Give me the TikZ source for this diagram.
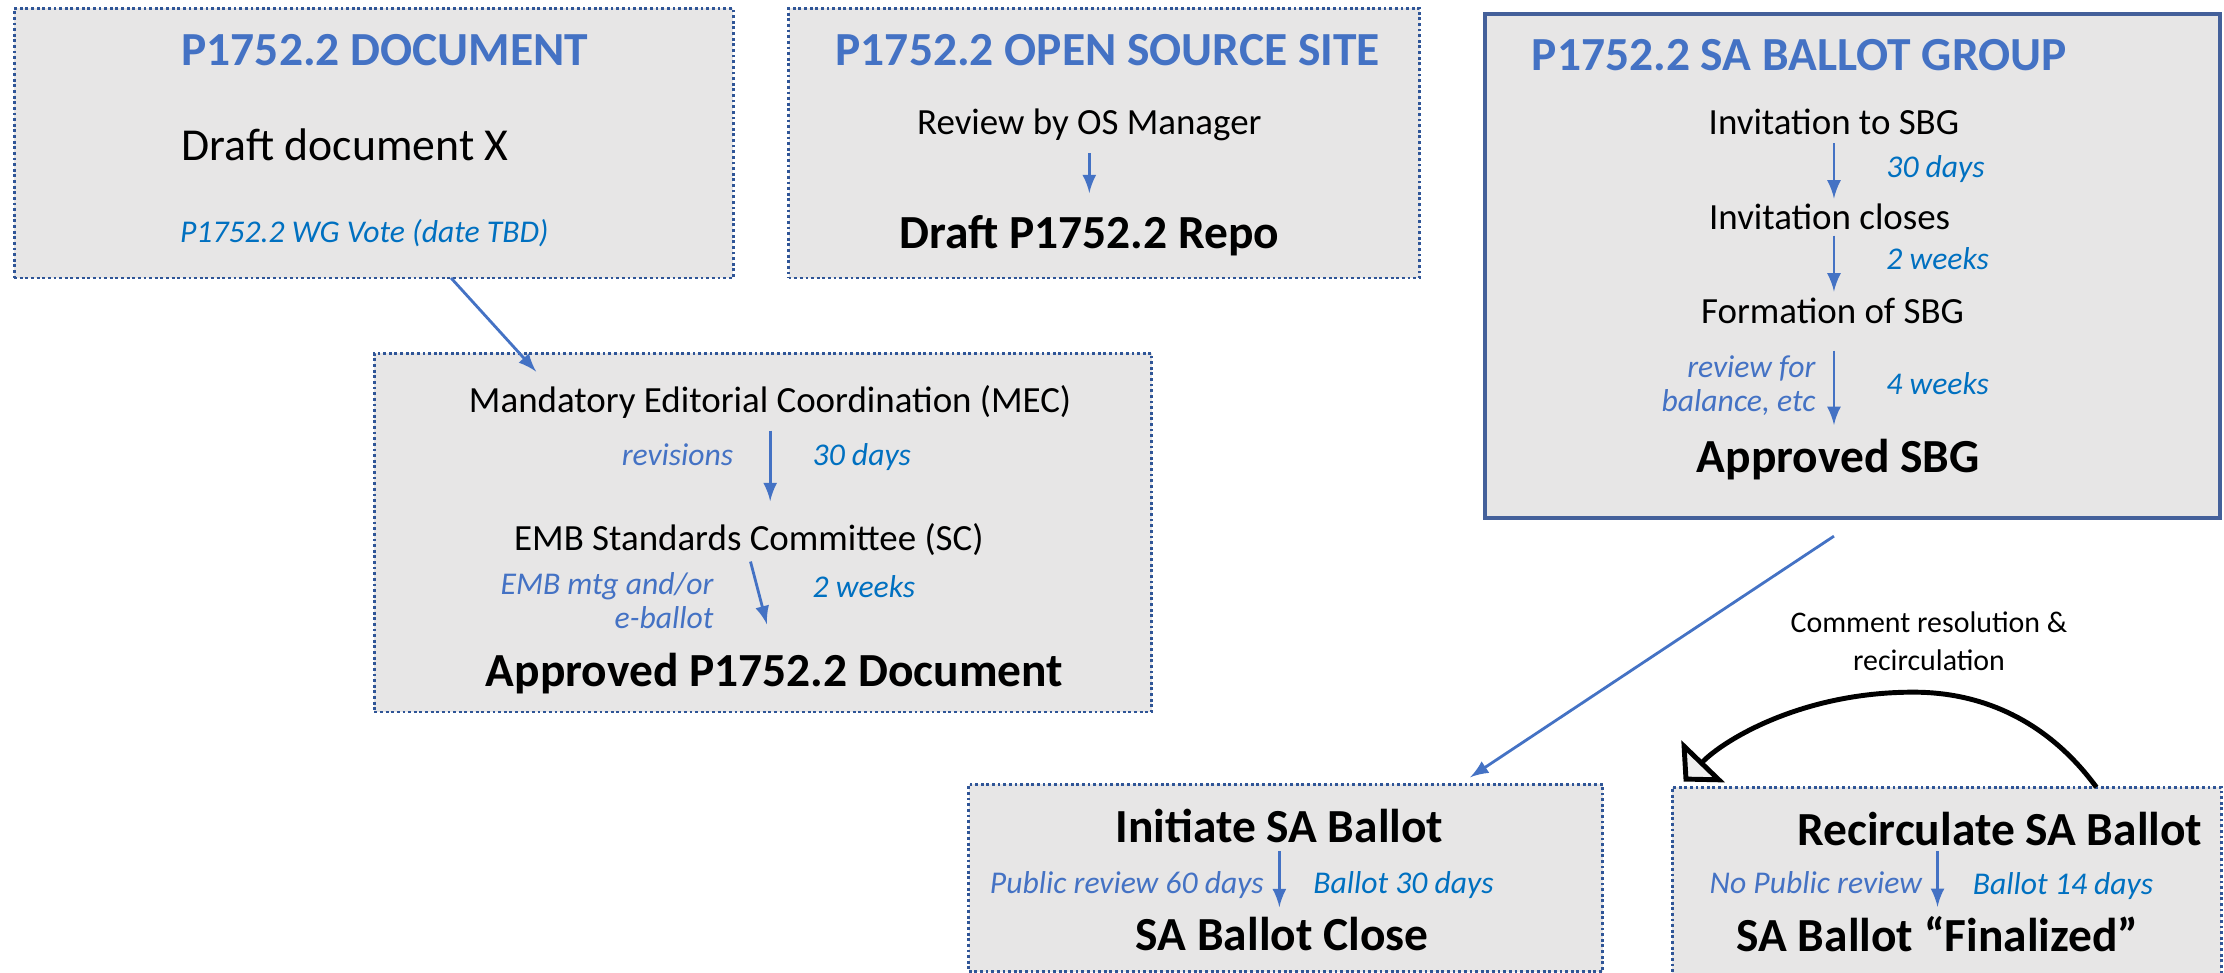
\documentclass[tikz,border=0pt]{standalone}
\usepackage{fontspec}
\setmainfont{Carlito}
\usetikzlibrary{fit,arrows.meta}

\definecolor{headblue}{HTML}{4472C4}
\definecolor{noteblue}{HTML}{0070C0}
\definecolor{boxgray}{HTML}{E7E6E6}
\definecolor{dotblue}{HTML}{2F5597}
\definecolor{framegray}{HTML}{44609A}

\begin{document}
\begin{tikzpicture}[x=0.01418cm, y=-0.01418cm]
\tikzset{ >=latex, inner sep=0pt, outer sep=0pt,
  dotbox/.style={draw=dotblue, fill=boxgray, line width=0.8pt, dash pattern=on 0.8pt off 0.8pt},
  framebox/.style={draw=framegray, fill=boxgray, line width=1.1pt},
  head/.style={font=\fontsize{13.5}{16}\selectfont\bfseries, text=headblue},
  result/.style={font=\fontsize{13.5}{16}\selectfont\bfseries},
  stage/.style={font=\fontsize{10.5}{12.6}\selectfont},
  note/.style={font=\fontsize{9}{9.7}\selectfont\itshape, text=noteblue},
  remark/.style={font=\fontsize{9}{9.7}\selectfont\itshape, text=headblue, align=right},
  flow/.style={->, headblue, line width=0.8pt},
}

%\draw [lightgray, dashed](0,0) grid[step=100] (1568,686);
\useasboundingbox (0,0) rectangle (1568,686);

\node [dotbox, fit={(10,6) (517,196)}] (doc) {};
\node [dotbox, fit={(556,6) (1001,196)}] (oss) {};
\node [framebox, fit={(1047,10) (1565,365)}] (sbg) {};
\node [dotbox, fit={(264,249) (812,502)}] (mec) {};
\node [dotbox, fit={(683,553) (1130,685)}] (ini) {};
\node [dotbox, fit={(1179,555) (1566,692)}] (rec) {};

% document
\node [head, anchor=base west] (docT) at (128,46) {P1752.2 DOCUMENT};
\node [font=\fontsize{13}{15.6}\selectfont, anchor=base west] (draft) at (128,113) {Draft document X};
\node [note, anchor=base west] (vote) at (127,171) {P1752.2 WG Vote (date TBD)};

% open source site
\node [head, anchor=base] (ossT) at (781,46) {P1752.2 OPEN SOURCE SITE};
\node [stage, anchor=base] (osrev) at (768,95) {Review by OS Manager};
\node [result, anchor=base] (repo) at (768,175) {Draft P1752.2 Repo};
\draw [flow, shorten <=3.4pt, shorten >=6.3pt] (osrev.south) -- (osrev.south |- repo.north);

% ballot group
\node [head, anchor=base west] (sbgT) at (1080,50) {P1752.2 SA BALLOT GROUP};
\node [stage, anchor=base] (inv) at (1293,95) {Invitation to SBG};
\node [stage, anchor=base] (invc) at (1290,162) {Invitation closes};
\node [stage, anchor=base] (form) at (1292,228) {Formation of SBG};
\node [result, anchor=base] (appsbg) at (1296,333) {Approved SBG};
\draw [flow, shorten <=2.4pt, shorten >=1.6pt] (inv.south) -- (inv.south |- invc.north);
\draw [flow, shorten <=1.6pt, shorten >=1.8pt] (inv.south |- invc.south) -- (inv.south |- form.north);
\draw [flow, shorten <=7.7pt, shorten >=4pt] (inv.south |- form.south) -- (inv.south |- appsbg.north);
\node [note, anchor=base west] (d30) at (1330,125) {30 days};
\node [note, anchor=base west] (w2) at (1330,190) {2 weeks};
\node [note, anchor=base west] (w4) at (1330,278) {4 weeks};
\node [remark, anchor=base east] (bal) at (1280,290) {review for\\balance, etc};

% editorial coordination
\node [stage, anchor=base] (mectxt) at (543,291) {Mandatory Editorial Coordination (MEC)};
\node [stage, anchor=base] (emb) at (528,388) {EMB Standards Committee (SC)};
\node [result, anchor=base] (appdoc) at (546,484) {Approved P1752.2 Document};
\draw [flow, shorten <=3.4pt, shorten >=6.3pt] (mectxt.south) -- (mectxt.south |- emb.north);
\draw [flow, shorten <=1.8pt, shorten >=8.5pt] (emb.south) -- (appdoc.north);
\node [remark, anchor=base east] (revs) at (517,328) {revisions};
\node [note, anchor=base west] (md30) at (573,328) {30 days};
\node [remark, anchor=base east] (mtg) at (503,443) {EMB mtg and/or\\e-ballot};
\node [note, anchor=base west] (mw2) at (573,421) {2 weeks};

% sa ballot
\node [result, anchor=base] (initxt) at (902,594) {Initiate SA Ballot};
\node [result, anchor=base] (close) at (904,670) {SA Ballot Close};
\draw [flow, shorten <=2.4pt, shorten >=2.8pt] (initxt.south) -- (initxt.south |- close.north);
\node [remark, anchor=base east] (pub) at (891,630) {Public review 60 days};
\node [note, anchor=base west] (b30) at (926,630) {Ballot 30 days};

\node [result, anchor=base] (rectxt) at (1410,596) {Recirculate SA Ballot};
\node [result, anchor=base] (fin) at (1366,671) {SA Ballot ``Finalized''};
\draw [flow, shorten <=1.6pt, shorten >=2.8pt] (fin.north |- rectxt.south) -- (fin.north);
\node [remark, anchor=base east] (nopub) at (1355,630) {No Public review};
\node [note, anchor=base west] (b14) at (1391,631) {Ballot 14 days};

% links between boxes
\draw [flow] ([shift={(54.5,0)}]doc.south) -- ([shift={(114,13)}]mec.north west);
\draw [flow] ([shift={(-13,13)}]sbg.south) -- ([shift={(130,-5)}]ini.north);

\node [font=\fontsize{8.5}{11}\selectfont, align=center, anchor=base] (cmt) at (1360,473) {Comment resolution \&\\recirculation};
\draw [line width=1.4pt, -{Triangle[length=8pt, width=17pt, fill=white!94!black]}]
  ([shift={(105.5,0)}]rec.north) .. controls (1445,510) and (1400,488) .. (1349,488)
  .. controls (1270,488) and (1215,522) .. ([shift={(-185.5,-4)}]rec.north);

\end{tikzpicture}
\end{document}
